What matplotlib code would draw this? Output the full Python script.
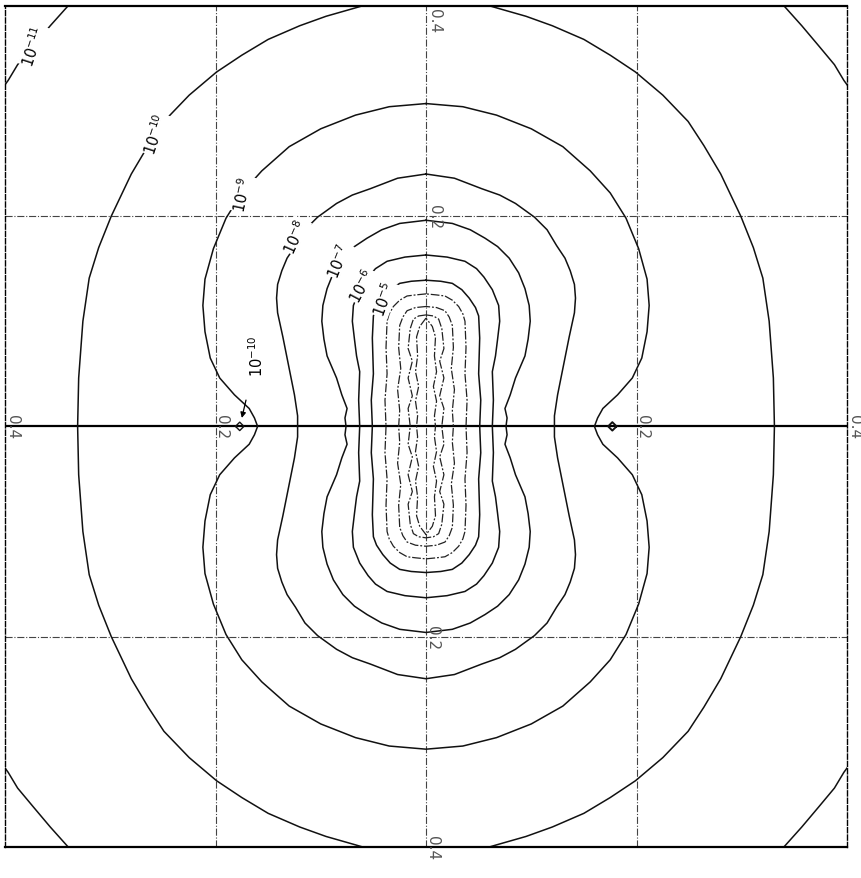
# Contour map (log levels) redrawn from a scanned figure.

import numpy as np
import matplotlib.pyplot as plt

# quarter contours, from the top point on x=0 down to the crossing of y=0
c11_x = [-0.331, -0.340, -0.357, -0.373, -0.388, -0.397, -0.405]
c11_y = [0.410, 0.400, 0.381, 0.362, 0.344, 0.329, 0.318]

c10_x = [0.0, -0.030, -0.050, -0.067, -0.095, -0.120, -0.150, -0.175, -0.199,
         -0.225, -0.249, -0.264, -0.280, -0.299, -0.311, -0.320, -0.326,
         -0.330, -0.331]
c10_y = [0.410, 0.408, 0.403, 0.398, 0.390, 0.381, 0.368, 0.353, 0.337,
         0.315, 0.290, 0.267, 0.240, 0.200, 0.170, 0.141, 0.100,
         0.046, 0.0]

c9_x = [0.0, -0.035, -0.067, -0.100, -0.130, -0.156, -0.175, -0.190, -0.202,
        -0.210, -0.212, -0.210, -0.205, -0.196, -0.182, -0.168, -0.163, -0.160]
c9_y = [0.307, 0.304, 0.296, 0.283, 0.266, 0.243, 0.222, 0.198, 0.169,
        0.140, 0.115, 0.090, 0.065, 0.046, 0.030, 0.017, 0.008, 0.0]

c8_x = [0.0, -0.027, -0.053, -0.070, -0.085, -0.103, -0.115, -0.124, -0.132,
        -0.137, -0.141, -0.142, -0.141, -0.136, -0.130, -0.125, -0.122, -0.122]
c8_y = [0.240, 0.236, 0.226, 0.220, 0.212, 0.199, 0.187, 0.172, 0.160,
        0.148, 0.135, 0.122, 0.108, 0.085, 0.055, 0.030, 0.010, 0.0]

c7_x = [0.0, -0.025, -0.042, -0.056, -0.068, -0.079, -0.088, -0.094, -0.098,
        -0.099, -0.097, -0.094, -0.085, -0.080, -0.075, -0.077, -0.076]
c7_y = [0.196, 0.193, 0.187, 0.179, 0.171, 0.160, 0.146, 0.131, 0.115,
        0.100, 0.083, 0.067, 0.046, 0.030, 0.017, 0.008, 0.0]

c6_x = [0.0, -0.020, -0.037, -0.048, -0.055, -0.063, -0.069, -0.070, -0.068,
        -0.066, -0.063, -0.064, -0.063]
c6_y = [0.163, 0.161, 0.157, 0.150, 0.142, 0.130, 0.115, 0.100, 0.083,
        0.067, 0.052, 0.025, 0.0]

c5_x = [0.0, -0.014, -0.025, -0.034, -0.041, -0.047, -0.050, -0.051, -0.050,
        -0.052, -0.051]
c5_y = [0.139, 0.138, 0.136, 0.130, 0.122, 0.113, 0.105, 0.084, 0.050,
        0.025, 0.0]

c4_x = [0.0, -0.010, -0.018, -0.025, -0.031, -0.035, -0.037, -0.038, -0.037,
        -0.039, -0.038]
c4_y = [0.126, 0.125, 0.124, 0.120, 0.114, 0.107, 0.100, 0.075, 0.050,
        0.025, 0.0]

c3_x = [0.0, -0.010, -0.018, -0.022, -0.025, -0.026, -0.024, -0.027, -0.025,
        -0.026]
c3_y = [0.114, 0.113, 0.110, 0.104, 0.096, 0.075, 0.055, 0.035, 0.015, 0.0]

c2_x = [0.0, -0.007, -0.012, -0.015, -0.017, -0.013, -0.017, -0.013, -0.017,
        -0.015]
c2_y = [0.106, 0.105, 0.102, 0.093, 0.074, 0.062, 0.046, 0.029, 0.017, 0.0]

c1_x = [0.0, -0.006, -0.009, -0.008, -0.010, -0.007, -0.010, -0.008, -0.009]
c1_y = [0.103, 0.095, 0.085, 0.067, 0.052, 0.038, 0.024, 0.010, 0.0]

# tiny closed 10^-10 loops on the midplane (left one, mirrored to the right)
loop_x = [-0.181, -0.177, -0.173, -0.177, -0.181]
loop_y = [0.0, 0.004, 0.0, -0.004, 0.0]

# contour labels
lab_text = [r"$10^{-11}$", r"$10^{-10}$", r"$10^{-9}$", r"$10^{-8}$",
            r"$10^{-7}$", r"$10^{-6}$", r"$10^{-5}$"]
lab_x = [-0.373, -0.257, -0.174, -0.124, -0.083, -0.061, -0.040]
lab_y = [0.362, 0.278, 0.221, 0.181, 0.158, 0.134, 0.121]
lab_rot = [72, 72, 78, 66, 68, 62, 70]

# axis value labels written along the centre lines
tick_text = ["0.2", "0.2", "0.2", "0.2", "0.4", "0.4", "0.4", "0.4"]
tick_x = [0.008, -0.194, 0.206, 0.006, 0.008, -0.393, 0.4075, 0.006]
tick_y = [0.2, 0.0, 0.0, -0.2, 0.398, 0.0, 0.0, -0.4]
tick_va = ["center", "center", "center", "center", "top", "center",
           "center", "center"]


def full_loop(xq, yq):
    xq = np.asarray(xq)
    yq = np.asarray(yq)
    x = np.concatenate([xq, xq[::-1][1:], -xq[1:], -xq[::-1][1:]])
    y = np.concatenate([yq, -yq[::-1][1:], -yq[1:], yq[::-1][1:]])
    return x, y


fig = plt.figure(figsize=(8.61, 8.79), dpi=100)
ax = fig.add_axes([0.0058, 0.0353, 0.978, 0.957])
ax.set_xlim(-0.4, 0.4)
ax.set_ylim(-0.4, 0.4)
ax.set_xticks([])
ax.set_yticks([])

# grid
for g in [-0.2, 0.2]:
    ax.axvline(g, color="#444444", lw=0.8, ls="-.", zorder=1)
    ax.axhline(g, color="#444444", lw=0.8, ls="-.", zorder=1)
ax.axvline(0, color="#444444", lw=0.8, ls="-.", zorder=1)
ax.axhline(0, color="black", lw=1.6, zorder=1)

for sp in ["left", "right"]:
    ax.spines[sp].set_linestyle("--")
    ax.spines[sp].set_linewidth(1.0)
for sp in ["top", "bottom"]:
    ax.spines[sp].set_linewidth(1.6)

# contours: outer ones solid, inner ones broken like the scan
outer = [(c10_x, c10_y), (c9_x, c9_y), (c8_x, c8_y), (c7_x, c7_y),
         (c6_x, c6_y), (c5_x, c5_y)]
inner = [(c4_x, c4_y), (c3_x, c3_y), (c2_x, c2_y), (c1_x, c1_y)]
for qx, qy in outer:
    x, y = full_loop(qx, qy)
    ax.plot(x, y, color="#111111", lw=1.1, zorder=2)
for qx, qy in inner:
    x, y = full_loop(qx, qy)
    ax.plot(x, y, color="#222222", lw=0.9, ls=(0, (7, 1.5, 1.5, 1.5)),
            zorder=2)

c11x = np.asarray(c11_x)
c11y = np.asarray(c11_y)
for sx in [1, -1]:
    for sy in [1, -1]:
        ax.plot(sx * c11x, sy * c11y, color="#111111", lw=1.1, zorder=2)

lx = np.asarray(loop_x)
ly = np.asarray(loop_y)
ax.plot(lx, ly, color="#111111", lw=1.0, zorder=2)
ax.plot(-lx, ly, color="#111111", lw=1.4, zorder=2)

# labels on the contours
for t, x, y, r in zip(lab_text, lab_x, lab_y, lab_rot):
    ax.text(x, y, t, rotation=r, ha="center", va="center", fontsize=10.5,
            bbox=dict(facecolor="white", edgecolor="none", pad=0.5), zorder=4)

ax.annotate(r"$10^{-10}$", xy=(-0.175, 0.008), xytext=(-0.161, 0.068),
            rotation=90, ha="center", va="center", fontsize=10.5, zorder=4,
            arrowprops=dict(arrowstyle="-|>", color="black", lw=0.9,
                            shrinkA=16, shrinkB=0, mutation_scale=8))

for t, x, y, v in zip(tick_text, tick_x, tick_y, tick_va):
    ax.text(x, y, t, rotation=-90, ha="center", va=v, fontsize=11,
            color="#555555", clip_on=False, zorder=3)

fig.savefig("out.png", dpi=100)
